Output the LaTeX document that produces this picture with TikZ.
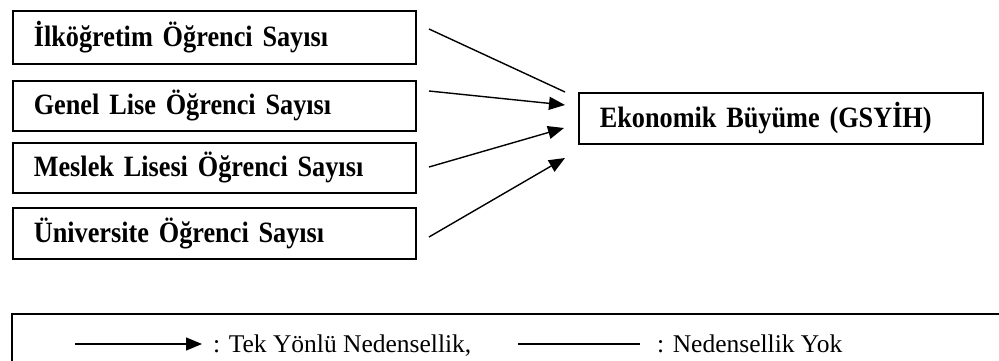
\documentclass[tikz,border=0pt]{standalone}
\usepackage{fontspec}
\setmainfont{Liberation Serif}
\newfontfamily\boxfont[FakeStretch=0.89]{Liberation Serif}
\newcommand\varboxfont{\boxfont\fontsize{29.5}{32}\selectfont\bfseries\spaceskip=6.5pt\relax}
\usetikzlibrary{arrows.meta}
\begin{document}
\begin{tikzpicture}[x=1pt,y=-1pt,
  varbox/.style={draw, line width=1.6pt, anchor=north west, inner xsep=21pt, inner ysep=0pt,
    align=left, font=\varboxfont},
  conn/.style={line width=1.4pt},
  arr/.style={conn, -{Triangle[length=16pt,width=13pt]}},
  legtext/.style={anchor=base west, inner sep=0pt, font=\fontsize{25.5}{30}\selectfont}]
\useasboundingbox (0,0) rectangle (999,361);
\begin{scope}
\clip (0,0) rectangle (999,361);
\draw[line width=1.6pt] (1010,314) -- (12,314) -- (12,380);
\end{scope}
\node[varbox, text width=361pt, minimum height=53pt] (b1) at (12,10) {İlköğretim Öğrenci Sayısı};
\node[varbox, text width=361pt, minimum height=50pt] (b2) at (12,80) {Genel Lise Öğrenci Sayısı};
\node[varbox, text width=361pt, minimum height=50pt] (b3) at (12,142) {Meslek Lisesi Öğrenci Sayısı};
\node[varbox, text width=361pt, minimum height=51pt] (b4) at (12,207) {Üniversite Öğrenci Sayısı};
\node[varbox, text width=362pt, minimum height=51pt] (gdp) at (578,92) {Ekonomik Büyüme (GSYİH)};
\coordinate (s1) at (429,29);
\coordinate (s2) at (429,91);
\coordinate (s3) at (429,167);
\coordinate (s4) at (429,237);
\coordinate (e1) at (565,92);
\coordinate (e2) at (565,105);
\coordinate (e3) at (564,128);
\coordinate (e4) at (565,158);
\draw[conn] (s1) -- (e1);
\draw[arr] (s2) -- (e2);
\draw[arr] (s3) -- (e3);
\draw[arr] (s4) -- (e4);
\coordinate (la1) at (75,344);
\coordinate (la2) at (202,344);
\coordinate (lb1) at (518,344);
\coordinate (lb2) at (640,344);
\draw[arr] (la1) -- (la2);
\node[legtext] (t1) at (213,352) {: Tek Yönlü Nedensellik,};
\draw[conn] (lb1) -- (lb2);
\node[legtext] (t2) at (657,352) {: Nedensellik Yok};
\end{tikzpicture}
\end{document}
